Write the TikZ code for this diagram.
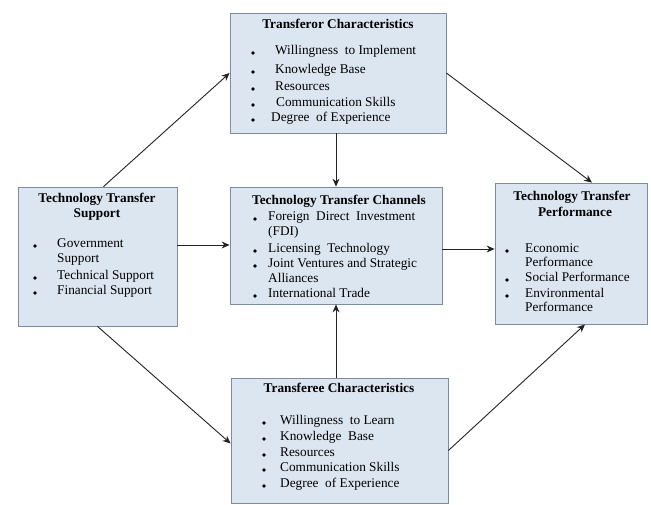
\documentclass[tikz,border=0pt]{standalone}
\usepackage{fontspec}
\setmainfont{Liberation Serif}
\usetikzlibrary{arrows.meta}
\definecolor{boxfill}{RGB}{220,230,241}
\definecolor{boxline}{RGB}{125,140,162}
\definecolor{arrowc}{RGB}{35,35,35}
\tikzset{
  panel/.style={draw=boxline, fill=boxfill, line width=0.8pt, inner sep=0pt, minimum width=#1},
  ttl/.style={anchor=mid, inner sep=0pt, font=\fontsize{13.3}{16}\selectfont\bfseries},
  itm/.style={anchor=mid west, inner sep=0pt, font=\fontsize{13.3}{16}\selectfont},
  bul/.style={circle, fill=black, inner sep=0pt, minimum size=3.6pt},
  conn/.style={draw=arrowc, line width=0.9pt, -{Stealth[length=8pt,width=7pt]}}
}
\begin{document}
\begin{tikzpicture}[x=1pt,y=-1pt]
\useasboundingbox[fill=white] (0,0) rectangle (651,504);
% boxes
\node[panel=216pt, minimum height=120pt] (T) at (338,73) {};
\node[panel=159pt, minimum height=139pt] (L) at (97.5,256.5) {};
\node[panel=212pt, minimum height=117pt] (C) at (336,245.5) {};
\node[panel=152pt, minimum height=141pt] (R) at (571,253.5) {};
\node[panel=217pt, minimum height=125pt] (B) at (339.5,440.5) {};
% top box text
\node[ttl] (t0) at (338,26) {Transferor Characteristics};
\node[bul] (tb1) at (253,53) {}; \node[itm] (t1) at (275,52) {Willingness\ \ to Implement};
\node[bul] (tb2) at (253,72) {}; \node[itm] (t2) at (275,71) {Knowledge Base};
\node[bul] (tb3) at (253,89) {}; \node[itm] (t3) at (275,88) {Resources};
\node[bul] (tb4) at (253,105) {}; \node[itm] (t4) at (276,104) {Communication Skills};
\node[bul] (tb5) at (253,120) {}; \node[itm] (t5) at (271,119) {Degree\ \ of Experience};
% left box text
\node[ttl] (l0) at (97,200) {Technology Transfer};
\node[ttl] (l0b) at (97,215) {Support};
\node[bul] (lb1) at (35,246) {}; \node[itm] (l1) at (57,245) {Government};
\node[itm] (l1b) at (57,260) {Support};
\node[bul] (lb2) at (35,278) {}; \node[itm] (l2) at (57,277) {Technical Support};
\node[bul] (lb3) at (35,293) {}; \node[itm] (l3) at (57,292) {Financial Support};
% center box text
\node[ttl] (c0) at (339,202) {Technology Transfer Channels};
\node[bul] (cb1) at (255,219) {}; \node[itm] (c1) at (268,218) {Foreign\ \ Direct\ \ Investment};
\node[itm] (c1b) at (268,233) {(FDI)};
\node[bul] (cb2) at (255,251) {}; \node[itm] (c2) at (268,250) {Licensing\ \ Technology};
\node[bul] (cb3) at (255,266) {}; \node[itm] (c3) at (268,265) {Joint Ventures and Strategic};
\node[itm] (c3b) at (268,280) {Alliances};
\node[bul] (cb4) at (255,296) {}; \node[itm] (c4) at (268,295) {International Trade};
% right box text
\node[ttl] (r0) at (572,198) {Technology Transfer};
\node[ttl] (r0b) at (575,214) {Performance};
\node[bul] (rb1) at (507,251) {}; \node[itm] (r1) at (525,250) {Economic};
\node[itm] (r1b) at (525,264) {Performance};
\node[bul] (rb2) at (507,280) {}; \node[itm] (r2) at (525,279) {Social Performance};
\node[bul] (rb3) at (507,296) {}; \node[itm] (r3) at (525,295) {Environmental};
\node[itm] (r3b) at (525,309) {Performance};
% bottom box text
\node[ttl] (b0) at (339,390) {Transferee Characteristics};
\node[bul] (bb1) at (264,423) {}; \node[itm] (b1) at (280,422) {Willingness\ \ to Learn};
\node[bul] (bb2) at (264,439) {}; \node[itm] (b2) at (280,438) {Knowledge\ \ Base};
\node[bul] (bb3) at (264,455) {}; \node[itm] (b3) at (280,454) {Resources};
\node[bul] (bb4) at (264,470) {}; \node[itm] (b4) at (280,469) {Communication Skills};
\node[bul] (bb5) at (264,486) {}; \node[itm] (b5) at (280,485) {Degree\ \ of Experience};
% connectors
\draw[conn] ([xshift=6pt]L.north) -- (T.west);
\draw[conn] (T.east) -- ([xshift=21pt]R.north);
\draw[conn] (L.south) -- ([yshift=-3pt]B.west);
\draw[conn] ([yshift=-10pt]B.east) -- ([xshift=14pt]R.south);
\draw[conn] (C.north |- T.south) -- (C.north);
\draw[conn] (C.south |- B.north) -- (C.south);
\draw[conn] ([yshift=11.5pt]L.east) -- ([yshift=11.5pt]L.east -| C.west);
\draw[conn] ([yshift=-3.5pt]C.east) -- ([yshift=-3.5pt]C.east -| R.west);
\end{tikzpicture}
\end{document}
